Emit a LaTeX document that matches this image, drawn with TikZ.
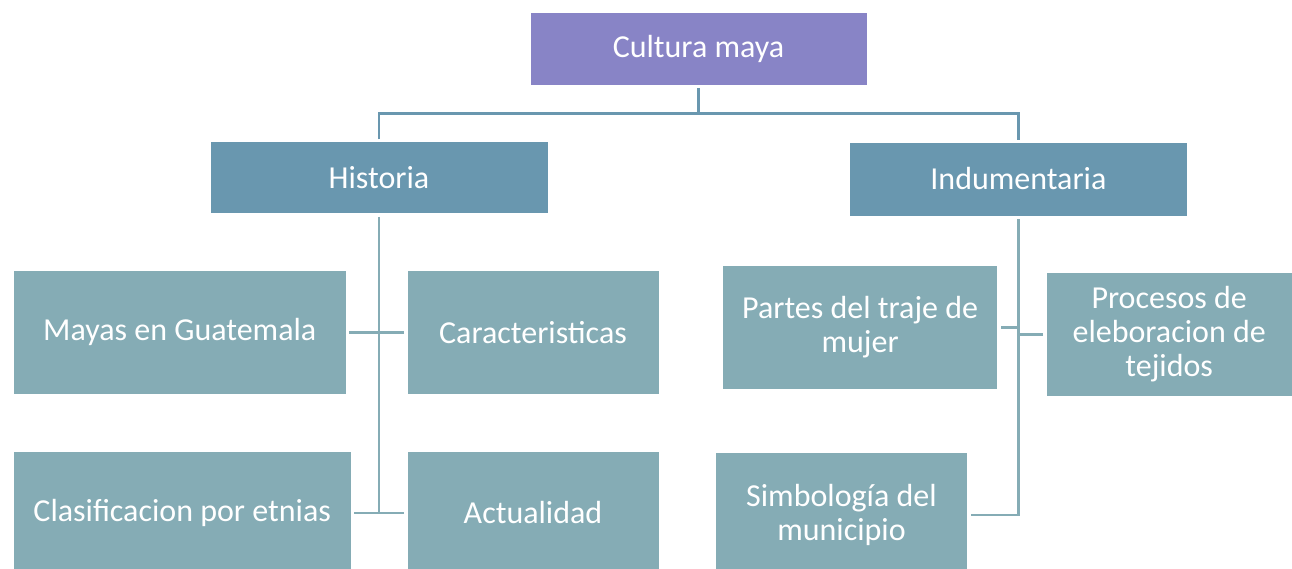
\documentclass[tikz,border=0pt]{standalone}
\usepackage{fontspec}
\setmainfont{Carlito}
\definecolor{topc}{HTML}{8884C6}
\definecolor{midc}{HTML}{6997AF}
\definecolor{leafc}{HTML}{85ACB5}
\tikzset{
  box/.style={rectangle, inner sep=0pt, text=white, align=center,
    font=\fontsize{32}{34}\selectfont, draw=white, line width=0.6pt},
  topbox/.style={box, fill=topc},
  midbox/.style={box, fill=midc},
  leafbox/.style={box, fill=leafc},
  linkmid/.style={draw=midc, line width=2.8pt},
  linkleaf/.style={draw=leafc, line width=2.8pt},
}
\begin{document}
\begin{tikzpicture}[x=1pt, y=-1pt]
\useasboundingbox (0,0) rectangle (1292,569);
\clip (0,0) rectangle (1292,569);
% nodes
\node[topbox, minimum width=337pt, minimum height=73pt] (cult) at (698.5,49) {Cultura maya};
\node[midbox, minimum width=338pt, minimum height=72pt] (hist) at (379,177.7) {Historia};
\node[midbox, minimum width=338pt, minimum height=74pt] (indu) at (1018.4,178.9) {Indumentaria};
\node[leafbox, minimum width=332.6pt, minimum height=124.3pt] (maya) at (179.7,332.2) {Mayas en Guatemala};
\node[leafbox, minimum width=252pt, minimum height=124.3pt] (cara) at (533,332.2) {Caracteristicas};
\node[leafbox, minimum width=337.6pt, minimum height=124pt] (clas) at (182.2,513) {Clasificacion por etnias};
\node[leafbox, minimum width=252pt, minimum height=124pt] (actu) at (533,513) {Actualidad};
\node[leafbox, minimum width=275.2pt, minimum height=124.3pt] (part) at (860.1,327.2) {Partes del traje de\\mujer};
\node[leafbox, minimum width=245.6pt, minimum height=124.4pt] (proc) at (1169.2,334.5) {Procesos de\\eleboracion de\\tejidos};
\node[leafbox, minimum width=251.9pt, minimum height=124.3pt] (simb) at (841.5,514.9) {Simbología del\\municipio};
% helper coordinates
\coordinate (bus) at (698.5,113.7);
\coordinate (hv) at (378.6,0);
\coordinate (iv) at (1018.5,0);
% top connectors
\draw[linkmid] ([yshift=-2pt]cult.south) -- (bus);
\draw[linkmid] ([yshift=2pt]hist.north) -- (hist.north |- bus) -- (indu.north |- bus) -- ([yshift=2pt]indu.north);
% Historia branch
\draw[linkleaf] ([yshift=-3pt]hist.south) -- (hist.south |- clas.east);
\draw[linkleaf] ([xshift=3pt]maya.east) -- ([xshift=-3pt]cara.west);
\draw[linkleaf] ([xshift=3pt]clas.east) -- ([xshift=-3pt]actu.west);
% Indumentaria branch
\draw[linkleaf] ([yshift=-3pt]indu.south) -- (indu.south |- simb.east) -- ([xshift=3pt]simb.east);
\draw[linkleaf] ([xshift=3pt]part.east) -- (part.east -| indu.south);
\draw[linkleaf] ([xshift=-3pt]proc.west) -- (proc.west -| indu.south);
\end{tikzpicture}
\end{document}
